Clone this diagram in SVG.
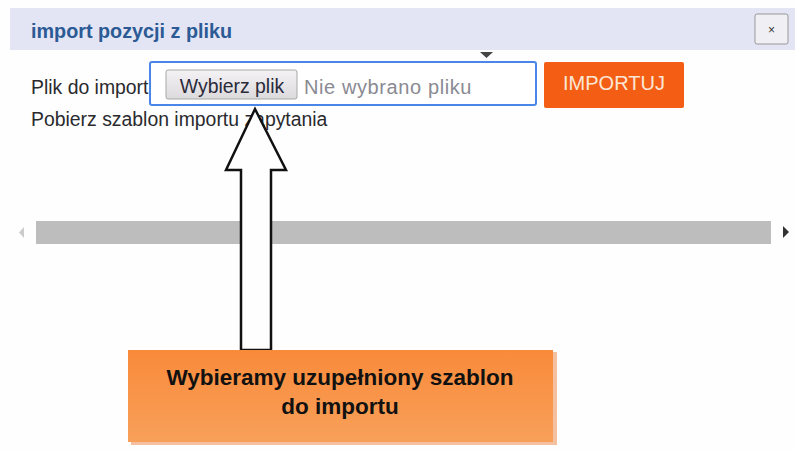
<svg xmlns="http://www.w3.org/2000/svg" width="795" height="450" viewBox="0 0 795 450">
<defs>
<linearGradient id="btn" x1="0" y1="0" x2="0" y2="1"><stop offset="0" stop-color="#f4f2f4"/><stop offset="1" stop-color="#dcdadc"/></linearGradient>
<linearGradient id="org" x1="0" y1="0" x2="0" y2="1"><stop offset="0" stop-color="#f98a3a"/><stop offset="1" stop-color="#f8a05a"/></linearGradient>
</defs>
<style>
text{font-family:"Liberation Sans",Arial,sans-serif}
.lbl{font-size:19.4px;fill:#2a2a2e}
</style>
<rect width="795" height="450" fill="#fefefe"/>
<g id="header">
<rect x="10" y="8" width="785" height="42" fill="#e3e5f4"/>
<text x="31" y="38" font-size="19.8" font-weight="bold" fill="#2c5a94">import pozycji z pliku</text>
</g>
<g id="close">
<rect x="755" y="14" width="33" height="30" rx="2" fill="#f0f0f4" stroke="#999"/>
<text x="771.5" y="34" font-size="12" text-anchor="middle" fill="#333">×</text>
</g>
<g id="label-plik"><text class="lbl" x="31" y="94">Plik do import</text></g>
<g id="file-input">
<rect x="150" y="62" width="386" height="43" rx="2" fill="#fff" stroke="#4a86e8" stroke-width="2"/>
<rect x="166" y="70" width="131" height="29" rx="2" fill="url(#btn)" stroke="#a8a8a8"/>
<text x="232" y="93" font-size="19.4" text-anchor="middle" fill="#2a2a3a">Wybierz plik</text>
<text x="304" y="94" font-size="20" letter-spacing="0.6" fill="#8a8a92">Nie wybrano pliku</text>
<polygon points="480,52 493,52 486.5,58" fill="#444"/>
</g>
<g id="importuj">
<rect x="544" y="62" width="140" height="46" rx="2" fill="#f45e14"/>
<text x="614" y="90" font-size="20" text-anchor="middle" fill="#fbe6d6">IMPORTUJ</text>
</g>
<g id="pobierz"><text class="lbl" x="31" y="126">Pobierz szablon importu zapytania</text></g>
<g id="scrollbar">
<rect x="36" y="221" width="735" height="23" fill="#bdbdbd"/>
<polygon points="24,227 24,238 19,232.5" fill="#ccc"/>
<polygon points="783,226 783,238 789,232" fill="#333"/>
</g>
<g id="connectors">
<polygon points="255,109 286,170 271,170 271,350 241,350 241,170 226,170" fill="#fefefe" stroke="#111" stroke-width="2.5" stroke-linejoin="miter"/>
</g>
<g id="callout">
<rect x="131" y="352" width="426" height="93" fill="#f4c0a0"/>
<rect x="128" y="350" width="425" height="92" fill="url(#org)"/>
<text x="340" y="385" font-size="22.5" font-weight="bold" text-anchor="middle" fill="#111">Wybieramy uzupełniony szablon</text>
<text x="340" y="414" font-size="22.5" font-weight="bold" text-anchor="middle" fill="#111">do importu</text>
</g>
</svg>
